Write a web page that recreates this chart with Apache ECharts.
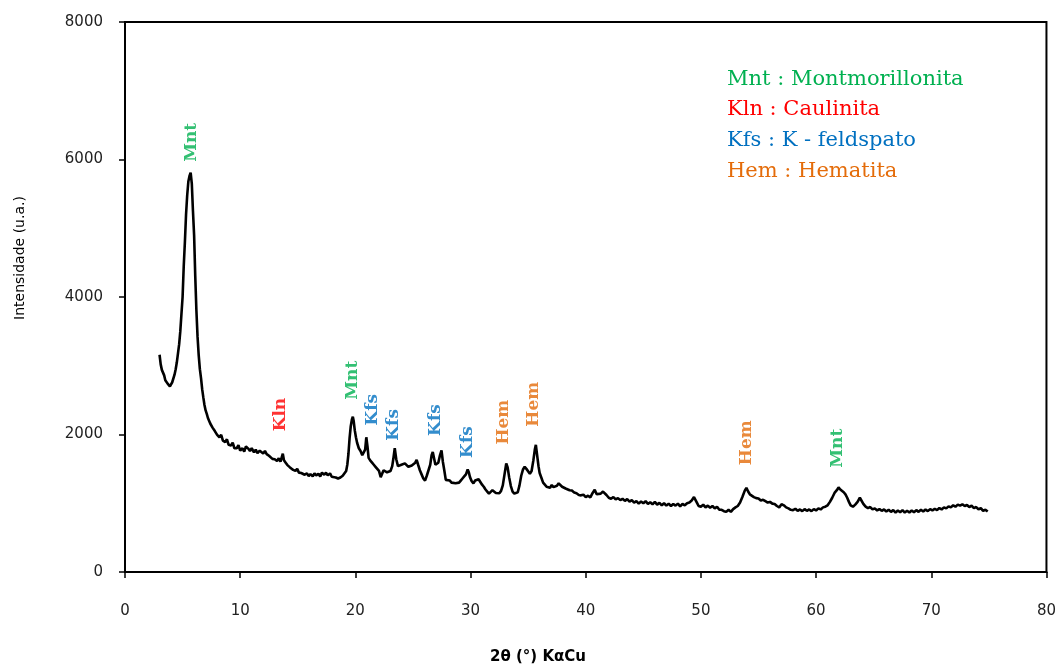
<!DOCTYPE html>
<html>
<head>
<meta charset="utf-8">
<title>DRX</title>
<script src="https://cdn.jsdelivr.net/npm/echarts@6/dist/echarts.min.js"></script>
<style>
  html, body { margin: 0; padding: 0; background: #fff; }
  #chart { width: 1059px; height: 666px; }
</style>
</head>
<body>
<div id="chart"></div>
<script>
// difratograma: 2theta (graus) e intensidade (u.a.)
var twoTheta = [
  3.0, 3.1, 3.2, 3.3, 3.4, 3.5, 3.6, 3.7, 3.8, 3.9, 4.0, 4.1, 4.2, 4.3, 4.4, 4.5, 4.6, 4.7, 4.8, 4.9,
  5.0, 5.1, 5.2, 5.3, 5.4, 5.5, 5.6, 5.7, 5.8, 5.9, 6.0, 6.1, 6.2, 6.3, 6.4, 6.5, 6.6, 6.7, 6.8, 6.9,
  7.0, 7.1, 7.2, 7.3, 7.4, 7.6, 7.8, 8.0, 8.2, 8.35, 8.5, 8.7, 8.85, 9.0, 9.2, 9.35, 9.5, 9.7, 9.85, 10.0,
  10.2, 10.35, 10.5, 10.7, 10.85, 11.0, 11.2, 11.35, 11.5, 11.7, 11.85, 12.0, 12.15, 12.3, 12.5, 12.65, 12.8, 13.0, 13.2, 13.35,
  13.5, 13.6, 13.7, 13.8, 13.95, 14.1, 14.3, 14.45, 14.6, 14.8, 14.95, 15.1, 15.3, 15.45, 15.6, 15.8, 15.95, 16.1, 16.3, 16.45,
  16.6, 16.8, 16.95, 17.1, 17.3, 17.45, 17.6, 17.8, 17.95, 18.1, 18.3, 18.5, 18.7, 18.9, 19.05, 19.2, 19.3, 19.4, 19.5, 19.6,
  19.7, 19.78, 19.85, 19.95, 20.05, 20.15, 20.3, 20.45, 20.6, 20.75, 20.85, 20.95, 21.05, 21.15, 21.3, 21.45, 21.6, 21.75, 21.9, 22.05,
  22.2, 22.3, 22.45, 22.6, 22.75, 22.9, 23.05, 23.2, 23.3, 23.42, 23.55, 23.7, 23.85, 24.0, 24.15, 24.3, 24.45, 24.6, 24.75, 24.9,
  25.05, 25.2, 25.32, 25.45, 25.6, 25.75, 25.9, 26.05, 26.2, 26.35, 26.5, 26.62, 26.72, 26.85, 26.95, 27.05, 27.2, 27.35, 27.48, 27.6,
  27.72, 27.85, 28.0, 28.2, 28.35, 28.5, 28.7, 28.85, 29.0, 29.15, 29.3, 29.45, 29.6, 29.75, 29.85, 29.95, 30.1, 30.25, 30.4, 30.55,
  30.7, 30.85, 31.0, 31.15, 31.3, 31.45, 31.6, 31.75, 31.9, 32.05, 32.2, 32.35, 32.5, 32.65, 32.8, 32.95, 33.1, 33.22, 33.35, 33.5,
  33.65, 33.8, 33.95, 34.1, 34.25, 34.4, 34.55, 34.7, 34.85, 35.0, 35.15, 35.3, 35.45, 35.58, 35.67, 35.78, 35.9, 36.0, 36.15, 36.3,
  36.45, 36.6, 36.75, 36.9, 37.05, 37.2, 37.35, 37.5, 37.65, 37.8, 37.95, 38.1, 38.25, 38.4, 38.6, 38.8, 39.0, 39.2, 39.4, 39.6,
  39.8, 40.0, 40.2, 40.4, 40.6, 40.78, 40.95, 41.1, 41.3, 41.5, 41.65, 41.8, 42.0, 42.2, 42.4, 42.6, 42.8, 43.0, 43.2, 43.4,
  43.6, 43.8, 44.0, 44.2, 44.4, 44.6, 44.8, 45.0, 45.2, 45.4, 45.6, 45.8, 46.0, 46.2, 46.4, 46.6, 46.8, 47.0, 47.2, 47.4,
  47.6, 47.8, 48.0, 48.2, 48.4, 48.6, 48.8, 49.0, 49.2, 49.4, 49.5, 49.65, 49.8, 50.0, 50.2, 50.4, 50.6, 50.8, 51.0, 51.2,
  51.4, 51.6, 51.8, 52.0, 52.2, 52.4, 52.6, 52.8, 53.0, 53.2, 53.4, 53.6, 53.8, 53.95, 54.1, 54.25, 54.4, 54.6, 54.8, 55.0,
  55.2, 55.4, 55.6, 55.8, 56.0, 56.2, 56.4, 56.6, 56.8, 57.0, 57.2, 57.4, 57.6, 57.8, 58.0, 58.2, 58.4, 58.6, 58.8, 59.0,
  59.2, 59.4, 59.6, 59.8, 60.0, 60.2, 60.4, 60.6, 60.8, 61.0, 61.2, 61.4, 61.6, 61.8, 61.95, 62.1, 62.25, 62.4, 62.55, 62.7,
  62.85, 63.0, 63.2, 63.4, 63.6, 63.8, 63.95, 64.1, 64.3, 64.5, 64.7, 64.9, 65.1, 65.3, 65.5, 65.7, 65.9, 66.1, 66.3, 66.5,
  66.7, 66.9, 67.1, 67.3, 67.5, 67.7, 67.9, 68.1, 68.3, 68.5, 68.7, 68.9, 69.1, 69.3, 69.5, 69.7, 69.9, 70.1, 70.3, 70.5,
  70.7, 70.9, 71.1, 71.3, 71.5, 71.7, 71.9, 72.1, 72.3, 72.5, 72.7, 72.9, 73.1, 73.3, 73.5, 73.7, 73.9, 74.1, 74.3, 74.5,
  74.7, 74.9
];
var intensity = [
  3160, 3020, 2940, 2900, 2860, 2790, 2810, 2740, 2760, 2700, 2730, 2760, 2780, 2870, 2950, 3050, 3180, 3310, 3500, 3750,
  4000, 4450, 4800, 5200, 5480, 5680, 5760, 5810, 5650, 5250, 4900, 4300, 3800, 3420, 3150, 2950, 2820, 2660, 2540, 2430,
  2350, 2300, 2240, 2200, 2160, 2100, 2050, 1995, 1960, 1995, 1910, 1890, 1930, 1850, 1840, 1880, 1800, 1800, 1845, 1765,
  1800, 1750, 1825, 1795, 1760, 1800, 1740, 1780, 1730, 1765, 1745, 1725, 1760, 1715, 1690, 1705, 1645, 1640, 1615, 1655,
  1605, 1665, 1720, 1625, 1590, 1555, 1525, 1545, 1485, 1470, 1500, 1445, 1440, 1465, 1415, 1435, 1395, 1425, 1390, 1435,
  1405, 1430, 1390, 1445, 1415, 1445, 1405, 1435, 1385, 1405, 1375, 1360, 1375, 1400, 1420, 1470, 1560, 1720, 1950, 2120,
  2220, 2260, 2200, 2060, 1960, 1880, 1800, 1760, 1700, 1690, 1780, 1960, 1830, 1660, 1620, 1590, 1560, 1530, 1510, 1470,
  1380, 1400, 1480, 1470, 1450, 1440, 1470, 1540, 1650, 1800, 1640, 1540, 1530, 1560, 1540, 1580, 1590, 1530, 1510, 1550,
  1530, 1590, 1630, 1560, 1480, 1420, 1360, 1330, 1400, 1480, 1560, 1700, 1745, 1640, 1560, 1540, 1590, 1700, 1770, 1600,
  1480, 1340, 1320, 1330, 1300, 1320, 1290, 1310, 1300, 1330, 1360, 1390, 1420, 1490, 1450, 1380, 1320, 1290, 1330, 1320,
  1350, 1330, 1270, 1240, 1200, 1170, 1140, 1160, 1190, 1175, 1150, 1170, 1145, 1180, 1260, 1420, 1580, 1520, 1380, 1250,
  1170, 1140, 1120, 1160, 1260, 1400, 1490, 1530, 1500, 1480, 1430, 1470, 1620, 1780, 1850, 1700, 1540, 1440, 1370, 1300,
  1270, 1240, 1255, 1225, 1265, 1235, 1215, 1255, 1290, 1265, 1240, 1255, 1215, 1210, 1190, 1185, 1155, 1145, 1120, 1115,
  1125, 1090, 1110, 1085, 1150, 1195, 1130, 1110, 1140, 1170, 1195, 1120, 1080, 1065, 1090, 1055, 1075, 1045, 1065, 1035,
  1060, 1025, 1045, 1010, 1030, 995, 1025, 1000, 1030, 990, 1015, 985, 1020, 980, 1005, 970, 1000, 965, 995, 960,
  990, 965, 995, 955, 990, 970, 1000, 1010, 1040, 1090, 1080, 1010, 960, 950, 980, 940, 965, 935, 960, 925,
  950, 905, 905, 885, 875, 905, 875, 915, 940, 960, 1010, 1090, 1180, 1225, 1170, 1130, 1110, 1090, 1075, 1070,
  1040, 1050, 1030, 1010, 1020, 995, 990, 960, 940, 985, 970, 940, 925, 905, 900, 920, 890, 910, 885, 915,
  890, 910, 885, 915, 895, 925, 910, 940, 950, 970, 1020, 1080, 1150, 1190, 1230, 1200, 1210, 1160, 1130, 1080,
  1020, 970, 950, 980, 1020, 1080, 1070, 990, 950, 930, 945, 910, 925, 895, 915, 890, 910, 880, 905, 875,
  900, 865, 895, 870, 900, 865, 890, 865, 895, 870, 900, 875, 905, 880, 910, 885, 915, 895, 920, 900,
  930, 910, 940, 925, 955, 940, 970, 950, 980, 965, 985, 960, 975, 945, 965, 930, 945, 910, 930, 890,
  905, 880
];

// identificacao dos picos (texto vertical sobre o pico)
var peakNames = ['Mnt', 'Kln', 'Mnt', 'Kfs', 'Kfs', 'Kfs', 'Kfs', 'Hem', 'Hem', 'Hem', 'Mnt'];
var peakTwoTheta = [5.8, 13.55, 19.8, 21.5, 23.35, 27.0, 29.75, 32.9, 35.5, 53.95, 61.85];
var peakLabelIntensity = [6250, 2290, 2790, 2360, 2140, 2210, 1890, 2180, 2440, 1880, 1800];

var phaseCodes = ['Mnt', 'Kln', 'Kfs', 'Hem'];
var phaseNames = ['Montmorillonita', 'Caulinita', 'K - feldspato', 'Hematita'];
var phaseColors = ['#00B050', '#FF0000', '#0070C0', '#E46C0A'];

var xTicks = [0, 80, 10];      // min, max, intervalo
var yTicks = [0, 8000, 2000];

var chartDom = document.getElementById('chart');
var myChart = echarts.init(chartDom);

var lineData = [];
for (var i = 0; i < twoTheta.length; i++) {
  lineData.push([twoTheta[i], intensity[i]]);
}

var peakData = [];
for (var j = 0; j < peakNames.length; j++) {
  var c = phaseColors[phaseCodes.indexOf(peakNames[j])];
  peakData.push({
    value: [peakTwoTheta[j], peakLabelIntensity[j]],
    name: peakNames[j],
    label: { color: c }
  });
}

// legenda em texto, no canto superior direito
var legendRows = [82, 112, 143, 174];
var graphics = [];
for (var k = 0; k < phaseCodes.length; k++) {
  graphics.push({
    type: 'text',
    left: 727,
    top: legendRows[k] - 13,
    style: {
      text: phaseCodes[k] + ' : ' + phaseNames[k],
      fill: phaseColors[k],
      font: '21px "DejaVu Serif"'
    }
  });
}
graphics.push({
  type: 'text',
  x: 20,
  y: 258,
  rotation: Math.PI / 2,
  style: {
    text: 'Intensidade (u.a.)',
    fill: '#000',
    font: '14px "DejaVu Sans"',
    align: 'center',
    verticalAlign: 'middle'
  }
});
graphics.push({
  type: 'text',
  x: 538,
  y: 657,
  style: {
    text: '2θ (°) KαCu',
    fill: '#000',
    font: 'bold 15px "DejaVu Sans"',
    align: 'center',
    verticalAlign: 'middle'
  }
});

var option = {
  animation: false,
  backgroundColor: '#fff',
  grid: {
    left: 125,
    right: 12,
    top: 22,
    bottom: 94,
    show: true,
    borderColor: '#000',
    borderWidth: 2
  },
  xAxis: {
    type: 'value',
    min: xTicks[0],
    max: xTicks[1],
    interval: xTicks[2],
    splitLine: { show: false },
    axisLine: { lineStyle: { color: '#000', width: 2 } },
    axisTick: { length: 6, lineStyle: { color: '#000', width: 1.5 } },
    axisLabel: {
      margin: 32,
      color: '#222',
      fontFamily: 'DejaVu Sans',
      fontSize: 15,
      showMinLabel: true,
      showMaxLabel: true
    }
  },
  yAxis: {
    type: 'value',
    min: yTicks[0],
    max: yTicks[1],
    interval: yTicks[2],
    splitLine: { show: false },
    axisLine: { show: true, lineStyle: { color: '#000', width: 2 } },
    axisTick: { show: true, length: 6, lineStyle: { color: '#000', width: 1.5 } },
    axisLabel: {
      margin: 22,
      color: '#222',
      fontFamily: 'DejaVu Sans',
      fontSize: 15,
      formatter: function (value) {
        return String(value);
      }
    }
  },
  graphic: graphics,
  series: [
    {
      type: 'line',
      data: lineData,
      showSymbol: false,
      symbol: 'none',
      lineStyle: { color: '#000', width: 2.6 },
      z: 3
    },
    {
      type: 'scatter',
      data: peakData,
      symbolSize: 0,
      label: {
        show: true,
        position: 'inside',
        rotate: 90,
        align: 'center',
        verticalAlign: 'middle',
        formatter: '{b}',
        fontFamily: 'DejaVu Serif',
        fontWeight: 'bold',
        fontSize: 17
      },
      z: 4
    }
  ]
};
myChart.setOption(option);
</script>
</body>
</html>
